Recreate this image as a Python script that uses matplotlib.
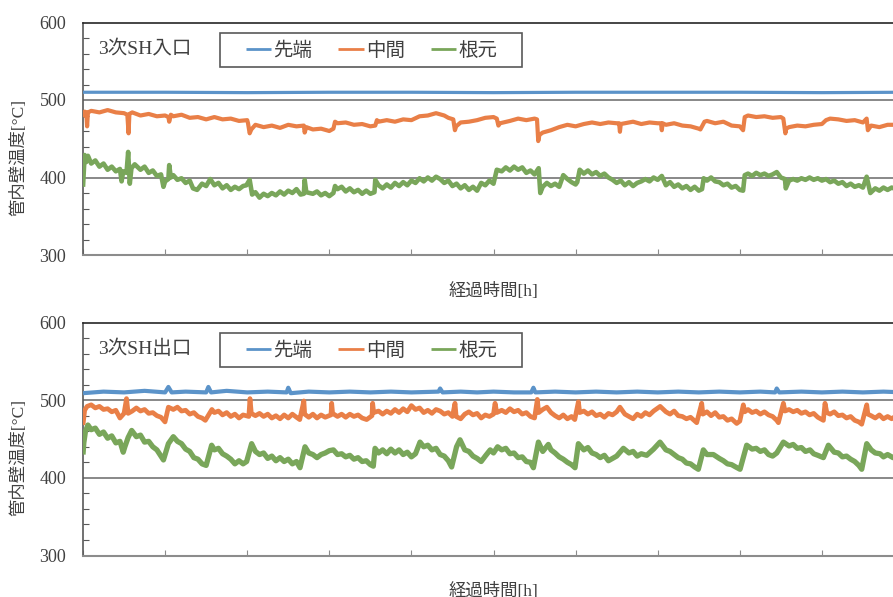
import matplotlib
matplotlib.use("Agg")
import matplotlib.pyplot as plt
from matplotlib.patches import Rectangle
from matplotlib.ticker import MultipleLocator, NullFormatter

# ---- data: elapsed time (axis units) and inner wall temperature [°C] ----
series_names = ["先端", "中間", "根元"]
panel_titles = ["3次SH入口", "3次SH出口"]
xlabel_text = "経過時間[h]"
ylabel_text = "管内壁温度[°C]"
yticks = [300, 400, 500, 600]

inlet_tip = [(0.0, 510), (1.0, 510), (2.0, 509.5), (3.0, 510), (4.0, 510), (5.0, 509.5),
             (6.0, 510), (7.0, 510), (8.0, 510), (9.0, 509.5), (10.0, 510)]

inlet_mid = [
    (0.0, 478), (0.02, 485), (0.04, 484), (0.05, 466), (0.06, 484), (0.1, 486), (0.2, 484),
    (0.3, 487), (0.4, 484), (0.5, 483), (0.54, 481), (0.555, 457), (0.565, 482), (0.6, 484),
    (0.7, 480), (0.8, 482), (0.9, 479), (1.0, 480), (1.04, 478), (1.05, 472), (1.07, 481),
    (1.1, 479), (1.2, 481), (1.3, 477), (1.4, 478), (1.5, 475), (1.6, 478), (1.7, 475),
    (1.8, 476), (1.9, 473), (2.0, 474), (2.01, 470), (2.03, 457), (2.05, 462), (2.1, 468),
    (2.2, 465), (2.3, 467), (2.4, 464), (2.5, 468), (2.6, 466), (2.69, 467), (2.70, 458),
    (2.72, 465), (2.8, 462), (2.9, 463), (3.0, 460), (3.05, 463), (3.07, 472), (3.1, 470),
    (3.2, 471), (3.3, 468), (3.4, 469), (3.5, 466), (3.56, 467), (3.58, 474), (3.6, 472),
    (3.7, 474), (3.8, 472), (3.9, 475), (4.0, 474), (4.1, 479), (4.2, 480), (4.3, 483),
    (4.4, 480), (4.45, 477), (4.51, 475), (4.53, 461), (4.545, 466), (4.6, 471), (4.7, 472),
    (4.8, 474), (4.9, 477), (5.0, 478), (5.04, 476), (5.06, 467), (5.08, 470), (5.2, 473),
    (5.3, 476), (5.4, 474), (5.5, 476), (5.53, 475), (5.545, 447), (5.56, 455), (5.6, 458),
    (5.7, 461), (5.8, 465), (5.9, 468), (6.0, 466), (6.1, 469), (6.2, 471), (6.3, 469),
    (6.4, 471), (6.5, 470), (6.53, 470), (6.54, 459), (6.55, 469), (6.6, 470), (6.7, 472),
    (6.8, 469), (6.9, 471), (7.0, 470), (7.04, 470), (7.05, 461), (7.06, 470), (7.1, 468),
    (7.2, 470), (7.3, 467), (7.4, 466), (7.5, 463), (7.52, 462), (7.57, 472), (7.6, 473),
    (7.7, 470), (7.8, 472), (7.9, 467), (8.0, 466), (8.04, 461), (8.06, 478), (8.1, 480),
    (8.2, 478), (8.3, 479), (8.4, 477), (8.5, 478), (8.53, 476), (8.555, 457), (8.565, 463),
    (8.6, 465), (8.7, 467), (8.8, 466), (8.9, 468), (9.0, 469), (9.05, 474), (9.1, 476),
    (9.2, 475), (9.3, 473), (9.4, 474), (9.5, 471), (9.545, 476), (9.56, 461), (9.6, 467),
    (9.7, 465), (9.8, 468), (9.9, 468), (10.0, 469)]

inlet_root = [
    (0.0, 388), (0.02, 429), (0.04, 420), (0.06, 428), (0.1, 418), (0.15, 422), (0.2, 414),
    (0.25, 418), (0.3, 410), (0.35, 414), (0.4, 408), (0.45, 411), (0.47, 395), (0.49, 408),
    (0.53, 406), (0.55, 433), (0.57, 392), (0.59, 412), (0.63, 417), (0.7, 410), (0.75, 414),
    (0.8, 406), (0.85, 409), (0.9, 402), (0.95, 404), (0.98, 388), (1.0, 395), (1.04, 398),
    (1.05, 416), (1.07, 400), (1.1, 403), (1.15, 397), (1.2, 399), (1.25, 393), (1.3, 396),
    (1.34, 386), (1.39, 384), (1.45, 392), (1.5, 389), (1.55, 398), (1.6, 390), (1.65, 393),
    (1.7, 386), (1.75, 390), (1.8, 384), (1.85, 388), (1.9, 385), (1.95, 389), (1.99, 390),
    (2.03, 397), (2.06, 378), (2.1, 381), (2.15, 374), (2.2, 379), (2.25, 376), (2.3, 380),
    (2.35, 377), (2.4, 382), (2.45, 378), (2.5, 383), (2.55, 380), (2.6, 385), (2.65, 378),
    (2.69, 379), (2.70, 397), (2.72, 381), (2.8, 379), (2.85, 382), (2.9, 377), (2.95, 380),
    (3.0, 376), (3.05, 380), (3.07, 389), (3.1, 385), (3.15, 388), (3.2, 382), (3.25, 386),
    (3.3, 381), (3.35, 384), (3.4, 379), (3.45, 383), (3.5, 379), (3.55, 381), (3.56, 397),
    (3.6, 390), (3.65, 386), (3.7, 391), (3.75, 387), (3.8, 393), (3.85, 389), (3.9, 394),
    (3.95, 390), (4.0, 396), (4.05, 393), (4.1, 399), (4.15, 395), (4.2, 400), (4.25, 396),
    (4.3, 401), (4.35, 398), (4.4, 393), (4.45, 396), (4.5, 389), (4.55, 392), (4.6, 386),
    (4.65, 390), (4.7, 384), (4.75, 388), (4.8, 383), (4.85, 393), (4.9, 390), (4.95, 396),
    (5.0, 392), (5.04, 410), (5.1, 408), (5.15, 413), (5.2, 409), (5.25, 414), (5.3, 410),
    (5.35, 413), (5.4, 406), (5.45, 409), (5.5, 404), (5.55, 412), (5.57, 380), (5.6, 388),
    (5.65, 393), (5.7, 389), (5.75, 392), (5.8, 388), (5.85, 403), (5.9, 398), (5.95, 394),
    (6.0, 391), (6.02, 394), (6.05, 410), (6.1, 405), (6.15, 409), (6.2, 404), (6.25, 407),
    (6.3, 402), (6.35, 405), (6.4, 400), (6.45, 397), (6.5, 393), (6.55, 396), (6.6, 390),
    (6.65, 394), (6.7, 389), (6.75, 393), (6.8, 395), (6.85, 398), (6.9, 395), (6.95, 400),
    (7.0, 397), (7.05, 402), (7.1, 390), (7.15, 394), (7.2, 388), (7.25, 391), (7.3, 386),
    (7.35, 389), (7.4, 384), (7.45, 388), (7.5, 383), (7.54, 385), (7.56, 399), (7.6, 396),
    (7.65, 400), (7.7, 395), (7.75, 394), (7.8, 390), (7.85, 392), (7.9, 387), (7.95, 389),
    (8.0, 384), (8.04, 383), (8.06, 403), (8.1, 405), (8.15, 402), (8.2, 406), (8.25, 403),
    (8.3, 405), (8.35, 402), (8.4, 404), (8.45, 407), (8.5, 400), (8.55, 398), (8.56, 386),
    (8.6, 396), (8.65, 398), (8.7, 396), (8.75, 399), (8.8, 397), (8.85, 400), (8.9, 397),
    (8.95, 399), (9.0, 396), (9.05, 398), (9.1, 394), (9.15, 396), (9.2, 392), (9.25, 394),
    (9.3, 389), (9.35, 392), (9.4, 388), (9.45, 390), (9.5, 387), (9.545, 401), (9.59, 380),
    (9.65, 386), (9.7, 383), (9.75, 387), (9.8, 384), (9.85, 387), (9.9, 385), (9.95, 387),
    (10.0, 385)]

outlet_tip = [
    (0.0, 509), (0.25, 511), (0.5, 510), (0.75, 512), (1.0, 510), (1.04, 517), (1.08, 510),
    (1.25, 511), (1.5, 510), (1.527, 517), (1.56, 510), (1.75, 512), (2.0, 510), (2.25, 511),
    (2.48, 510), (2.50, 516), (2.53, 509), (2.75, 511), (3.0, 510), (3.25, 511), (3.5, 510),
    (3.75, 511), (4.0, 510), (4.33, 511), (4.35, 515), (4.38, 510), (4.6, 511), (4.8, 510),
    (5.0, 511), (5.25, 510), (5.46, 510), (5.486, 516), (5.51, 510), (5.75, 511), (6.0, 510),
    (6.25, 511), (6.5, 510), (6.75, 511), (7.0, 510), (7.25, 511), (7.5, 510), (7.75, 511),
    (8.0, 510), (8.25, 511), (8.43, 510), (8.45, 515), (8.48, 510), (8.75, 511), (9.0, 510),
    (9.25, 511), (9.5, 510), (9.75, 511), (10.0, 510)]

outlet_mid = [
    (0.0, 468), (0.02, 487), (0.05, 492), (0.1, 494), (0.15, 490), (0.2, 492), (0.25, 488),
    (0.3, 489), (0.35, 485), (0.4, 487), (0.45, 477), (0.5, 483), (0.53, 502), (0.55, 483),
    (0.6, 486), (0.65, 490), (0.7, 486), (0.75, 488), (0.8, 483), (0.85, 484), (0.9, 480),
    (0.95, 478), (0.999, 472), (1.04, 491), (1.1, 488), (1.15, 491), (1.2, 486), (1.25, 487),
    (1.3, 482), (1.35, 484), (1.4, 479), (1.45, 477), (1.49, 474), (1.57, 488), (1.6, 484),
    (1.65, 486), (1.7, 481), (1.75, 484), (1.8, 479), (1.85, 482), (1.9, 477), (1.95, 481),
    (2.02, 479), (2.034, 502), (2.05, 483), (2.1, 480), (2.15, 483), (2.2, 479), (2.25, 482),
    (2.3, 477), (2.35, 480), (2.4, 476), (2.45, 481), (2.5, 477), (2.55, 482), (2.6, 478),
    (2.64, 475), (2.69, 499), (2.70, 482), (2.75, 478), (2.8, 482), (2.85, 477), (2.9, 481),
    (2.95, 478), (3.02, 481), (3.029, 496), (3.04, 483), (3.1, 479), (3.15, 482), (3.2, 478),
    (3.25, 482), (3.3, 479), (3.35, 481), (3.4, 477), (3.455, 475), (3.52, 480), (3.528, 496),
    (3.54, 484), (3.6, 486), (3.65, 482), (3.7, 486), (3.75, 483), (3.8, 488), (3.85, 484),
    (3.9, 489), (3.95, 485), (4.0, 493), (4.05, 488), (4.1, 490), (4.15, 484), (4.2, 487),
    (4.25, 483), (4.3, 488), (4.35, 486), (4.4, 482), (4.45, 484), (4.5, 479), (4.531, 496),
    (4.545, 479), (4.6, 476), (4.65, 482), (4.7, 485), (4.75, 481), (4.8, 483), (4.85, 477),
    (4.9, 481), (4.95, 479), (5.0, 482), (5.019, 496), (5.04, 484), (5.1, 487), (5.15, 484),
    (5.2, 489), (5.25, 485), (5.3, 487), (5.35, 482), (5.4, 484), (5.45, 479), (5.5, 477),
    (5.534, 501), (5.55, 484), (5.6, 488), (5.65, 491), (5.7, 484), (5.75, 480), (5.8, 477),
    (5.85, 481), (5.9, 476), (5.95, 479), (5.99, 475), (6.034, 498), (6.05, 484), (6.1, 486),
    (6.15, 482), (6.2, 485), (6.25, 480), (6.3, 482), (6.35, 478), (6.4, 483), (6.45, 481),
    (6.5, 485), (6.54, 491), (6.6, 482), (6.65, 479), (6.7, 476), (6.75, 482), (6.8, 479),
    (6.85, 484), (6.9, 481), (6.95, 486), (7.03, 492), (7.1, 485), (7.15, 482), (7.2, 486),
    (7.25, 480), (7.3, 479), (7.35, 476), (7.4, 478), (7.475, 471), (7.536, 496), (7.55, 482),
    (7.6, 485), (7.65, 480), (7.7, 484), (7.75, 478), (7.8, 479), (7.85, 474), (7.9, 476),
    (7.962, 470), (8.0, 473), (8.043, 494), (8.06, 485), (8.1, 488), (8.15, 484), (8.2, 486),
    (8.25, 482), (8.3, 485), (8.35, 481), (8.4, 479), (8.45, 474), (8.47, 471), (8.531, 496),
    (8.55, 486), (8.6, 488), (8.65, 485), (8.7, 487), (8.75, 483), (8.8, 485), (8.85, 481),
    (8.9, 483), (8.95, 478), (9.018, 474), (9.038, 496), (9.06, 484), (9.1, 482), (9.15, 485),
    (9.2, 480), (9.25, 481), (9.3, 477), (9.35, 479), (9.4, 474), (9.45, 472), (9.485, 469),
    (9.546, 494), (9.56, 482), (9.6, 480), (9.65, 477), (9.7, 481), (9.75, 476), (9.8, 479),
    (9.85, 476), (9.9, 480), (9.95, 477), (10.0, 479)]

outlet_root = [
    (0.0, 430), (0.01, 445), (0.03, 460), (0.06, 468), (0.1, 462), (0.15, 464), (0.2, 456),
    (0.25, 459), (0.3, 451), (0.35, 454), (0.4, 445), (0.45, 447), (0.49, 433), (0.51, 440),
    (0.55, 452), (0.593, 461), (0.65, 453), (0.7, 455), (0.75, 446), (0.8, 447), (0.85, 440),
    (0.9, 436), (0.95, 428), (0.98, 423), (1.0, 430), (1.04, 444), (1.1, 453), (1.15, 447),
    (1.2, 444), (1.25, 437), (1.3, 434), (1.35, 426), (1.4, 424), (1.45, 418), (1.5, 416),
    (1.567, 442), (1.6, 436), (1.65, 438), (1.7, 431), (1.75, 428), (1.8, 424), (1.85, 418),
    (1.9, 422), (1.95, 418), (1.993, 421), (2.054, 444), (2.1, 434), (2.15, 430), (2.2, 432),
    (2.25, 425), (2.3, 428), (2.35, 422), (2.4, 426), (2.45, 421), (2.5, 424), (2.55, 418),
    (2.6, 421), (2.643, 413), (2.704, 440), (2.75, 432), (2.8, 430), (2.85, 426), (2.9, 430),
    (2.95, 432), (3.0, 435), (3.05, 436), (3.1, 430), (3.15, 431), (3.2, 427), (3.25, 429),
    (3.3, 424), (3.35, 426), (3.4, 421), (3.45, 422), (3.5, 417), (3.536, 415), (3.557, 438),
    (3.6, 432), (3.65, 436), (3.7, 431), (3.75, 437), (3.8, 432), (3.85, 436), (3.9, 430),
    (3.95, 433), (4.0, 427), (4.05, 431), (4.105, 446), (4.15, 440), (4.2, 442), (4.25, 436),
    (4.3, 438), (4.35, 430), (4.4, 428), (4.45, 422), (4.49, 414), (4.55, 440), (4.592, 449),
    (4.65, 436), (4.7, 434), (4.75, 428), (4.8, 425), (4.85, 421), (4.9, 428), (4.96, 436),
    (5.0, 432), (5.05, 440), (5.1, 436), (5.15, 438), (5.2, 431), (5.25, 432), (5.3, 426),
    (5.35, 427), (5.4, 421), (5.45, 420), (5.486, 413), (5.547, 446), (5.6, 434), (5.668, 443),
    (5.7, 436), (5.75, 432), (5.8, 427), (5.85, 424), (5.9, 420), (5.95, 417), (5.993, 413),
    (6.034, 444), (6.1, 436), (6.15, 439), (6.2, 432), (6.25, 430), (6.3, 426), (6.35, 429),
    (6.4, 422), (6.45, 425), (6.5, 428), (6.582, 438), (6.65, 432), (6.7, 434), (6.75, 428),
    (6.8, 431), (6.866, 429), (6.95, 437), (7.028, 446), (7.1, 436), (7.15, 434), (7.2, 430),
    (7.25, 426), (7.3, 424), (7.35, 419), (7.4, 418), (7.45, 414), (7.495, 411), (7.556, 436),
    (7.6, 430), (7.678, 430), (7.75, 425), (7.8, 422), (7.85, 418), (7.9, 417), (7.95, 414),
    (8.003, 411), (8.084, 442), (8.15, 437), (8.2, 438), (8.25, 434), (8.3, 436), (8.35, 430),
    (8.4, 428), (8.45, 432), (8.531, 446), (8.6, 441), (8.65, 443), (8.7, 438), (8.75, 439),
    (8.8, 434), (8.855, 436), (8.9, 431), (8.95, 429), (9.018, 426), (9.079, 442), (9.15, 433),
    (9.2, 432), (9.25, 427), (9.3, 428), (9.35, 424), (9.4, 421), (9.45, 416), (9.485, 411),
    (9.546, 444), (9.6, 436), (9.65, 432), (9.708, 431), (9.75, 427), (9.8, 430), (9.866, 426),
    (9.9, 430), (9.95, 427), (10.0, 429)]

panels = [(inlet_tip, inlet_mid, inlet_root), (outlet_tip, outlet_mid, outlet_root)]
colors = ["#5b93c9", "#e97f47", "#79a65a"]
panel_widths = [(2.3, 3.0, 3.3), (3.0, 3.4, 3.8)]

serif_cjk = ["Liberation Serif", "Noto Sans CJK JP"]
sans_cjk = ["Noto Sans CJK JP", "DejaVu Sans"]
text_color = "#404040"

W, H = 893, 597
fig = plt.figure(figsize=(W / 100, H / 100), dpi=100)

AX_L, AX_W = 83.0, 821.0
# (top, bottom) pixel rows of each panel frame
frames = [(22.5, 255.0), (322.5, 555.5)]

for (top_px, bot_px), title, data, widths in zip(frames, panel_titles, panels, panel_widths):
    ph = bot_px - top_px
    ax = fig.add_axes([AX_L / W, 1 - bot_px / H, AX_W / W, ph / H])

    def ax_xy(px, py):
        return (px - AX_L) / AX_W, (bot_px - py) / ph

    for vals, name, c, lw in zip(data, series_names, colors, widths):
        xs = [p[0] for p in vals]
        ys = [p[1] for p in vals]
        ax.plot(xs, ys, color=c, lw=lw, solid_joinstyle="round", solid_capstyle="butt",
                label=name, zorder=3)

    ax.set_xlim(0, 10)
    ax.set_ylim(300, 600)
    ax.set_yticks(yticks)
    ax.yaxis.set_minor_locator(MultipleLocator(20))
    ax.xaxis.set_major_locator(MultipleLocator(1))
    ax.xaxis.set_major_formatter(NullFormatter())
    ax.tick_params(axis="y", which="major", length=0, pad=12, labelsize=13, labelcolor=text_color)
    ax.tick_params(axis="y", which="minor", direction="in", length=4, width=0.8, color="#595959")
    ax.tick_params(axis="x", which="major", direction="in", length=4, width=0.8, color="#8c8c8c")
    for lab in ax.get_yticklabels():
        lab.set_fontfamily("Liberation Serif")

    for yv in (400, 500):
        ax.axhline(yv, color="#7f7f7f", lw=1.3, zorder=2)

    ax.spines["top"].set_color("#262626")
    ax.spines["top"].set_linewidth(1.2)
    ax.spines["left"].set_color("#595959")
    ax.spines["left"].set_linewidth(1.2)
    ax.spines["bottom"].set_color("#8c8c8c")
    ax.spines["bottom"].set_linewidth(1.5)
    ax.spines["right"].set_visible(False)

    tx, ty = ax_xy(98, top_px + 26)
    ax.text(tx, ty, title, transform=ax.transAxes, ha="left", va="center", fontsize=14,
            family=serif_cjk, color=text_color)

    # legend entries, with a separate rectangular frame around them
    lx, ly = ax_xy(246, top_px + 28)
    leg = ax.legend(loc="center left", bbox_to_anchor=(lx, ly), ncol=3, frameon=False,
                    prop={"family": sans_cjk, "size": 14}, handlelength=1.3,
                    handletextpad=0.1, columnspacing=1.35, borderpad=0, borderaxespad=0)
    for h in leg.get_lines():
        h.set_linewidth(2.0)
    for t in leg.get_texts():
        t.set_color(text_color)
    fx0, fy0 = ax_xy(220, top_px + 44.5)
    fx1, fy1 = ax_xy(522, top_px + 10.5)
    ax.add_patch(Rectangle((fx0, fy0), fx1 - fx0, fy1 - fy0, transform=ax.transAxes,
                           fill=True, facecolor="white", edgecolor="#595959", lw=1.2, zorder=4))
    leg.set_zorder(5)

    fig.text(493 / W, 1 - (bot_px + 36) / H, xlabel_text, ha="center", va="center",
             fontsize=12.5, family=serif_cjk, color=text_color)
    fig.text(19 / W, 1 - (top_px + 134.5) / H, ylabel_text, ha="center", va="center",
             rotation=90, fontsize=12.5, family=serif_cjk, color=text_color)

fig.savefig("out.png", dpi=100)
